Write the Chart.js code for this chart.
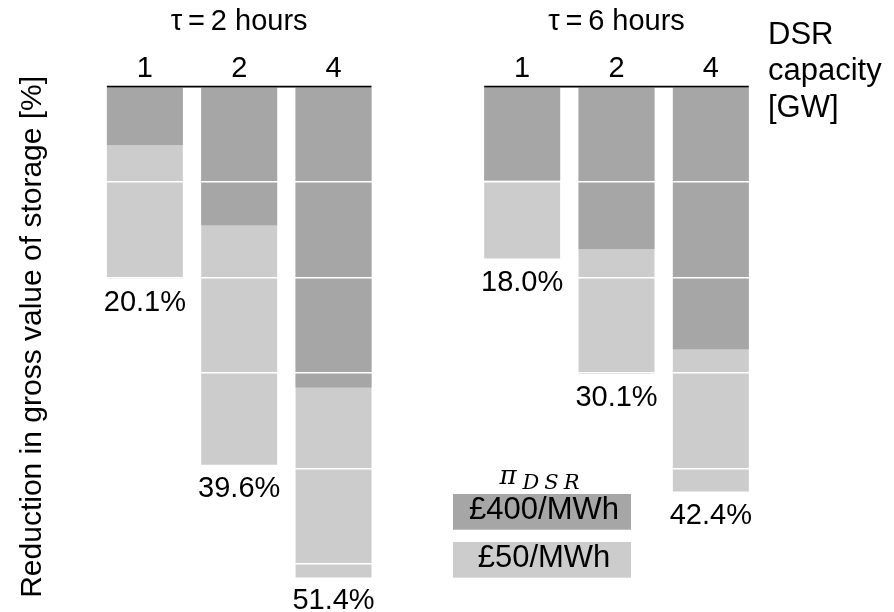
<!DOCTYPE html>
<html>
<head>
<meta charset="utf-8">
<script src="https://cdn.jsdelivr.net/npm/chart.js@4.4.1/dist/chart.umd.min.js"></script>
<style>
  html, body { margin: 0; padding: 0; background: #fff; }
  #wrap { position: relative; width: 894px; height: 612px; }
  #wrap canvas { position: absolute; left: 0; top: 0; }
</style>
</head>
<body>
<div id="wrap">
  <canvas id="tau2" width="894" height="612"></canvas>
  <canvas id="tau6" width="894" height="612"></canvas>
</div>
<script>
// DSR capacity categories [GW]
const capacities = ['1', '2', '4'];

// Reduction in gross value of storage [%], storage duration 2 h
const tau2Price400 = [6.1, 14.5, 31.5];
const tau2Price50 = [20.1, 39.6, 51.4];

// Reduction in gross value of storage [%], storage duration 6 h
const tau6Price400 = [9.8, 17.0, 27.5];
const tau6Price50 = [18.0, 30.1, 42.4];

const priceLabels = ['£400/MWh', '£50/MWh'];
const panelTitles = ['τ\u2009=\u20092 hours', 'τ\u2009=\u20096 hours'];
const yAxisTitle = 'Reduction in gross value of storage [%]';
const capacityTitle = ['DSR', 'capacity', '[GW]'];

const DARK = '#a6a6a6';
const LIGHT = '#cccccc';
const SANS = "'Liberation Sans', Arial, sans-serif";
const TEXT_SIZE = 29;

// Black rule along the top of each panel, and the total reduction printed under each bar
const panelDecor = {
  id: 'panelDecor',
  afterDraw(chart) {
    const ctx = chart.ctx;
    const yScale = chart.scales.y;
    const top = yScale.getPixelForValue(0);
    const totals = chart.getDatasetMeta(1).data;
    const first = totals[0];
    const last = totals[totals.length - 1];
    ctx.save();
    ctx.strokeStyle = '#000';
    ctx.lineWidth = 1.7;
    ctx.beginPath();
    ctx.moveTo(first.x - first.width / 2, top);
    ctx.lineTo(last.x + last.width / 2, top);
    ctx.stroke();

    ctx.fillStyle = '#000';
    ctx.font = TEXT_SIZE + 'px ' + SANS;
    ctx.textAlign = 'center';
    ctx.textBaseline = 'alphabetic';
    const values = chart.data.datasets[1].data;
    totals.forEach((bar, i) => {
      ctx.fillText(values[i].toFixed(1) + '%', bar.x, bar.y + 32);
    });
    ctx.restore();
  }
};

// Price legend (π_DSR) and the capacity axis caption, drawn on the right panel
const priceKey = {
  id: 'priceKey',
  afterDraw(chart, args, o) {
    const ctx = chart.ctx;
    const area = chart.chartArea;
    ctx.save();

    // capacity caption to the right of the panel
    ctx.fillStyle = '#000';
    ctx.font = '31px ' + SANS;
    ctx.textAlign = 'left';
    ctx.textBaseline = 'alphabetic';
    capacityTitle.forEach((line, i) => {
      ctx.fillText(line, area.right + 10, 43.5 + i * 36.5);
    });

    // legend header: π with subscript DSR
    const cx = o.left + o.boxW / 2;
    const hasSpacing = 'letterSpacing' in ctx;
    ctx.font = 'italic 26px "DejaVu Serif", serif';
    const piW = ctx.measureText('π').width;
    ctx.font = 'italic 21px "DejaVu Serif", serif';
    if (hasSpacing) ctx.letterSpacing = '5px';
    const subW = ctx.measureText('DSR').width;
    const gap = 6;
    const x0 = cx - (piW + gap + subW) / 2;
    ctx.fillText('DSR', x0 + piW + gap, o.top - 4.7);
    if (hasSpacing) ctx.letterSpacing = '0px';
    ctx.font = 'italic 26px "DejaVu Serif", serif';
    ctx.fillText('π', x0, o.top - 10);

    // one shaded box per price level, label centred inside
    ctx.font = '31px ' + SANS;
    ctx.textAlign = 'center';
    chart.data.datasets.forEach((ds, i) => {
      const y = o.top + i * (o.boxH + o.gap);
      ctx.fillStyle = ds.backgroundColor;
      ctx.fillRect(o.left, y, o.boxW, o.boxH);
      ctx.fillStyle = '#000';
      ctx.fillText(ds.label, cx + 2, y + o.boxH / 2 + 7.6);
    });
    ctx.restore();
  }
};

function panelConfig(title, price400, price50, padLeft, padRight, showYTitle, extraPlugins, pluginOpts) {
  return {
    type: 'bar',
    data: {
      labels: capacities,
      datasets: [
        { label: priceLabels[0], data: price400, backgroundColor: DARK },
        { label: priceLabels[1], data: price50, backgroundColor: LIGHT }
      ]
    },
    options: {
      responsive: false,
      animation: false,
      events: [],
      layout: { padding: { left: padLeft, right: padRight, top: 0, bottom: 25 } },
      datasets: {
        bar: { grouped: false, categoryPercentage: 1, barPercentage: 0.805, borderWidth: 0 }
      },
      scales: {
        x: {
          type: 'category',
          position: 'top',
          offset: true,
          grid: { display: false, drawTicks: false },
          border: { display: false },
          ticks: {
            color: '#000', padding: 0, maxRotation: 0, autoSkip: false,
            font: { family: SANS, size: TEXT_SIZE }
          }
        },
        y: {
          type: 'linear',
          reverse: true,
          min: 0,
          max: 52.4,
          grid: { color: '#ffffff', lineWidth: 1.6, z: 1, drawTicks: false },
          border: { display: false },
          ticks: { display: false, stepSize: 10 },
          title: {
            display: showYTitle,
            text: yAxisTitle,
            color: '#000',
            font: { family: SANS, size: 30 },
            padding: { top: 4, bottom: 47.1 }
          }
        }
      },
      plugins: {
        legend: { display: false },
        tooltip: { enabled: false },
        title: {
          display: true,
          text: title,
          fullSize: false,
          color: '#000',
          font: { family: SANS, size: TEXT_SIZE, weight: 'normal' },
          padding: { top: 4.9, bottom: 12.2 }
        },
        ...pluginOpts
      }
    },
    plugins: [panelDecor, ...extraPlugins]
  };
}

new Chart(document.getElementById('tau2'),
  panelConfig(panelTitles[0], tau2Price400, tau2Price50, 10.6, 513.3, true, [], {}));

new Chart(document.getElementById('tau6'),
  panelConfig(panelTitles[1], tau6Price400, tau6Price50, 475, 136, false, [priceKey],
    { priceKey: { left: 453, top: 494, boxW: 178, boxH: 35.7, gap: 12.3 } }));
</script>
</body>
</html>
